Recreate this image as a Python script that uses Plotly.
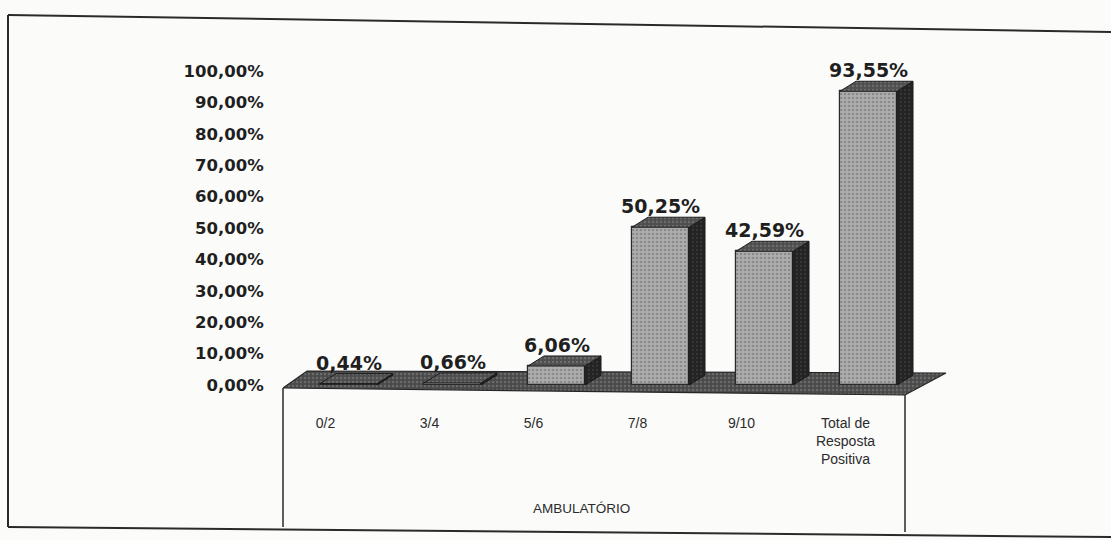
import plotly.graph_objects as go

# ---- data -------------------------------------------------------------
categories = ["0/2", "3/4", "5/6", "7/8", "9/10", "Total de<br>Resposta<br>Positiva"]
values = [0.44, 0.66, 6.06, 50.25, 42.59, 93.55]
y_tick_values = [0, 10, 20, 30, 40, 50, 60, 70, 80, 90, 100]
y_tick_labels = [f"{t:.2f}".replace(".", ",") + "%" for t in y_tick_values]
group_label = "AMBULATÓRIO"

# ---- geometry (pixels of the 1111x540 canvas) --------------------------
W, H = 1111, 540
L, R, T, B = 283, 950, 40, 527          # plot area edges
X0_PX, X_STEP = 325.5, 104.0            # pixel of category 0, pixels per category
Y0_PX, Y_STEP = 385.0, 3.14             # pixel of 0 %, pixels per percentage point

x_range = [(L - X0_PX) / X_STEP, (R - X0_PX) / X_STEP]
y_range = [-(B - Y0_PX) / Y_STEP, (Y0_PX - T) / Y_STEP]


def paper(px, py):
    """Canvas pixel -> paper coordinates of the plot area."""
    return (px - L) / (R - L), (B - py) / (B - T)


def dx(px):
    return (px - X0_PX) / X_STEP


def dy(py):
    return (Y0_PX - py) / Y_STEP


BAR_SHIFT = 23 / X_STEP      # bars stand in the middle of the floor depth
BAR_W = 57 / X_STEP
DEPTH_X = 16 / X_STEP
DEPTH_Y = 10 / Y_STEP

FONT_BOLD = "DejaVu Sans"
FONT_TEXT = "Liberation Sans, Arial"
INK = "#1f1f1f"
BG = "#fbfbfa"

fig = go.Figure()

# floor of the 3-D chart (base subplot, drawn underneath the bars)
floor_x = [dx(283), dx(307), dx(946), dx(905), dx(283)]
floor_y = [dy(388), dy(371), dy(373), dy(395), dy(388)]
fig.add_trace(go.Scatter(
    x=floor_x, y=floor_y, mode="lines", fill="toself",
    fillcolor="#4d4d4d",
    fillpattern=dict(shape=".", bgcolor="#4a4a4a", fgcolor="#8a8a8a",
                     size=4, solidity=0.3),
    line=dict(color="#262626", width=1.2),
    hoverinfo="skip", showlegend=False,
    xaxis="x", yaxis="y",
))

xc = [i + BAR_SHIFT for i in range(len(values))]

# front faces of the bars (overlay subplot)
fig.add_trace(go.Bar(
    x=xc, y=values, width=BAR_W,
    marker=dict(
        color="#ababab",
        line=dict(color="#2a2a2a", width=1.2),
        pattern=dict(shape=".", bgcolor="#adadad", fgcolor="#686868",
                     size=4, solidity=0.35),
    ),
    hoverinfo="skip", showlegend=False,
    xaxis="x2", yaxis="y2",
))

# right-hand side faces and top faces of the bars
side_x, side_y, top_x, top_y = [], [], [], []
for x, v in zip(xc, values):
    xl, xr = x - BAR_W / 2, x + BAR_W / 2
    side_x += [xr, xr + DEPTH_X, xr + DEPTH_X, xr, xr, None]
    side_y += [0, DEPTH_Y, v + DEPTH_Y, v, 0, None]
    top_x += [xl, xr, xr + DEPTH_X, xl + DEPTH_X, xl, None]
    top_y += [v, v, v + DEPTH_Y, v + DEPTH_Y, v, None]

fig.add_trace(go.Scatter(
    x=side_x, y=side_y, mode="lines", fill="toself",
    fillcolor="#232323",
    fillpattern=dict(shape=".", bgcolor="#232323", fgcolor="#4a4a4a",
                     size=4, solidity=0.25),
    line=dict(color="#151515", width=1),
    hoverinfo="skip", showlegend=False,
    xaxis="x2", yaxis="y2",
))
fig.add_trace(go.Scatter(
    x=top_x, y=top_y, mode="lines", fill="toself",
    fillcolor="#4e4e4e",
    fillpattern=dict(shape=".", bgcolor="#4e4e4e", fgcolor="#8a8a8a",
                     size=4, solidity=0.3),
    line=dict(color="#1c1c1c", width=1),
    hoverinfo="skip", showlegend=False,
    xaxis="x2", yaxis="y2",
))

# value labels
annotations = []
for x, v in zip(xc, values):
    annotations.append(dict(
        x=x, y=v, xref="x2", yref="y2", yshift=21,
        text=f"{v:.2f}".replace(".", ",") + "%",
        showarrow=False, xanchor="center", yanchor="middle",
        font=dict(family=FONT_BOLD, size=19, color=INK, weight="bold"),
    ))

ax, ay = paper(581, 508)
annotations.append(dict(
    x=ax, y=ay, xref="paper", yref="paper", text=group_label,
    showarrow=False, xanchor="center", yanchor="middle",
    font=dict(family=FONT_TEXT, size=13.5, color="#2b2b2b"),
))

# frame lines
shapes = []
for (p0, p1, w) in [
    ((8, 15), (1111, 32), 2),       # outer top
    ((8, 15), (8, 527), 2),         # outer left
    ((8, 527), (1111, 537), 2),     # outer bottom
    ((283, 388), (283, 527), 1.5),  # category box left
    ((905, 395), (905, 532), 1.5),  # category box right
]:
    x0, y0 = paper(*p0)
    x1, y1 = paper(*p1)
    shapes.append(dict(type="line", xref="paper", yref="paper",
                       x0=x0, y0=y0, x1=x1, y1=y1,
                       line=dict(color="#2a2a2a", width=w)))

hidden = dict(showline=False, showgrid=False, zeroline=False,
              showticklabels=False, ticks="", fixedrange=True)

fig.update_layout(
    width=W, height=H, autosize=False,
    margin=dict(l=L, r=W - R, t=T, b=H - B, pad=0),
    paper_bgcolor=BG, plot_bgcolor=BG,
    bargap=0,
    annotations=annotations,
    shapes=shapes,
    xaxis=dict(
        range=x_range, tickmode="array", tickvals=list(range(len(categories))),
        ticktext=categories, anchor="free", position=paper(0, 413)[1],
        showline=False, showgrid=False, zeroline=False, ticks="",
        tickfont=dict(family=FONT_TEXT, size=14, color="#2b2b2b"),
        automargin=False, fixedrange=True,
    ),
    yaxis=dict(
        range=y_range, tickmode="array", tickvals=y_tick_values,
        ticktext=y_tick_labels,
        showline=False, showgrid=False, zeroline=False,
        ticks="outside", ticklen=15, tickcolor="rgba(0,0,0,0)",
        tickfont=dict(family=FONT_BOLD, size=16.5, color=INK, weight="bold"),
        automargin=False, fixedrange=True,
    ),
    xaxis2=dict(range=x_range, overlaying="x", anchor="y2", **hidden),
    yaxis2=dict(range=y_range, overlaying="y", anchor="x2", **hidden),
)

fig.write_html("out.html")
